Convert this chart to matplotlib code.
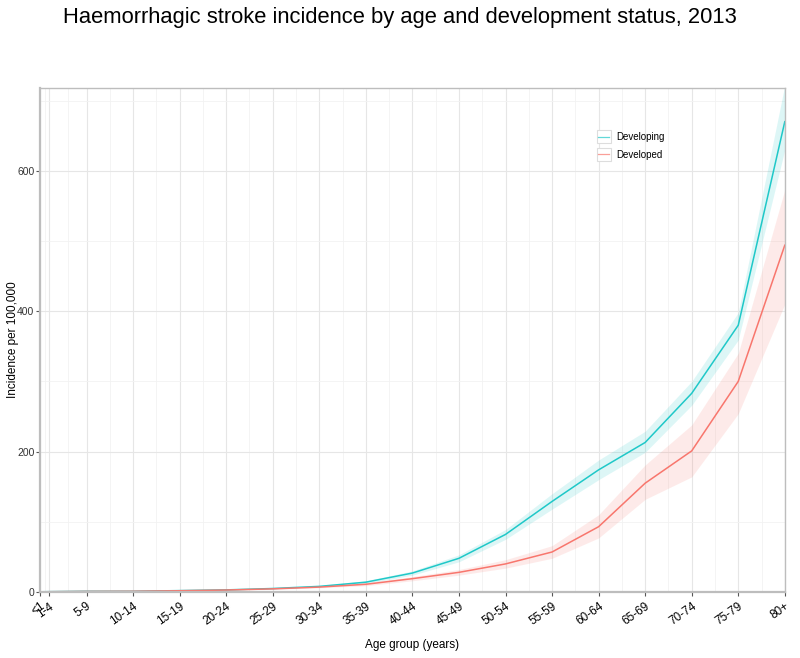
import matplotlib
matplotlib.use("Agg")
import matplotlib.pyplot as plt
from matplotlib.legend_handler import HandlerBase
from matplotlib.patches import Rectangle
from matplotlib.lines import Line2D
import numpy as np

plt.rcParams['font.family'] = ['Liberation Sans', 'DejaVu Sans']

age_labels = ["<1", "1-4", "5-9", "10-14", "15-19", "20-24", "25-29", "30-34", "35-39",
              "40-44", "45-49", "50-54", "55-59", "60-64", "65-69", "70-74", "75-79", "80+"]
age_pos = [0, 1, 5, 10, 15, 20, 25, 30, 35, 40, 45, 50, 55, 60, 65, 70, 75, 80]

developing = [0.3, 0.5, 1, 1, 2, 3, 5, 8, 14, 27, 48, 82, 129, 174, 213, 283, 380, 670]
developing_lo = [0.2, 0.4, 0.8, 0.8, 1.6, 2.5, 4.3, 7, 12, 24, 43, 75, 118, 160, 199, 266, 359, 630]
developing_hi = [0.4, 0.6, 1.2, 1.2, 2.4, 3.5, 5.8, 9, 16, 30, 53, 89, 140, 188, 229, 300, 398, 722]

developed = [0.2, 0.4, 0.8, 1, 1.8, 2.8, 4.5, 7, 11, 19, 28, 40, 57, 93, 155, 201, 300, 494]
developed_lo = [0.1, 0.3, 0.6, 0.8, 1.4, 2.3, 3.8, 6, 9, 16, 24, 34, 48, 77, 132, 164, 254, 410]
developed_hi = [0.3, 0.5, 1.0, 1.2, 2.2, 3.3, 5.2, 8, 13, 22, 32, 46, 66, 110, 181, 238, 340, 573]

c_dev = "#1fc8c8"
c_ded = "#f8766d"


class BoxLineHandler(HandlerBase):
    def create_artists(self, legend, orig_handle, xdescent, ydescent, width, height,
                       fontsize, trans):
        cy = height / 2 - ydescent
        bh = height * 1.9
        r = Rectangle((-xdescent, cy - bh / 2), width, bh, fc="white", ec="#dddddd",
                      lw=0.8, transform=trans)
        ln = Line2D([-xdescent + width * 0.12, -xdescent + width * 0.88], [cy, cy],
                    color=orig_handle.get_color(), lw=0.9, alpha=0.7, transform=trans)
        return [r, ln]


fig = plt.figure(figsize=(8, 6.58), dpi=100)
ax = fig.add_axes([0.05, 0.1003, 0.931, 0.766])

ax.fill_between(age_pos, developing_lo, developing_hi, color=c_dev, alpha=0.15, lw=0)
ax.fill_between(age_pos, developed_lo, developed_hi, color=c_ded, alpha=0.15, lw=0)
l1, = ax.plot(age_pos, developing, color=c_dev, lw=1.1, label="Developing")
l2, = ax.plot(age_pos, developed, color=c_ded, lw=1.1, label="Developed")

ax.set_xlim(0, 80)
ax.set_ylim(0, 718)
ax.set_xticks(age_pos)
ax.set_xticklabels(age_labels, rotation=35, ha="right", va="top", fontsize=8.5,
                   rotation_mode="anchor")
minor_x = [(a + b) / 2 for a, b in zip(age_pos[:-1], age_pos[1:])]
ax.set_xticks(minor_x, minor=True)
ax.set_yticks([0, 200, 400, 600])
ax.set_yticks([100, 300, 500, 700], minor=True)
ax.tick_params(axis="y", labelsize=7.5, colors="#555555", length=3, width=0.8, pad=1)
ax.tick_params(axis="x", colors="#555555", length=3, width=0.8, pad=3)
ax.tick_params(which="minor", length=0)
for lbl in ax.get_xticklabels():
    lbl.set_color("black")
for lbl in ax.get_yticklabels():
    lbl.set_color("#333333")

ax.grid(True, which="major", color="#e6e6e6", lw=0.8)
ax.grid(True, which="minor", color="#f2f2f2", lw=0.6)
ax.set_axisbelow(True)

for s in ["top", "right"]:
    ax.spines[s].set_color("#bdbdbd")
    ax.spines[s].set_linewidth(1.0)
for s in ["left", "bottom"]:
    ax.spines[s].set_color("#bdbdbd")
    ax.spines[s].set_linewidth(1.6)

ax.set_xlabel("Age group (years)", fontsize=8.5)
ax.xaxis.set_label_coords(0.5, -0.094)
ax.set_ylabel("Incidence per 100,000", fontsize=8.5)
ax.yaxis.set_label_coords(-0.0285, 0.5)

leg = ax.legend(handles=[l1, l2], loc="upper left", bbox_to_anchor=(0.7475, 0.912),
                frameon=False, fontsize=7, handlelength=1.45, labelspacing=0.75,
                handletextpad=0.55, borderaxespad=0, borderpad=0,
                handler_map={Line2D: BoxLineHandler()})

fig.text(0.5, 0.973, "Haemorrhagic stroke incidence by age and development status, 2013",
         ha="center", va="center", fontsize=15.8)

fig.savefig("out.png", dpi=100)
